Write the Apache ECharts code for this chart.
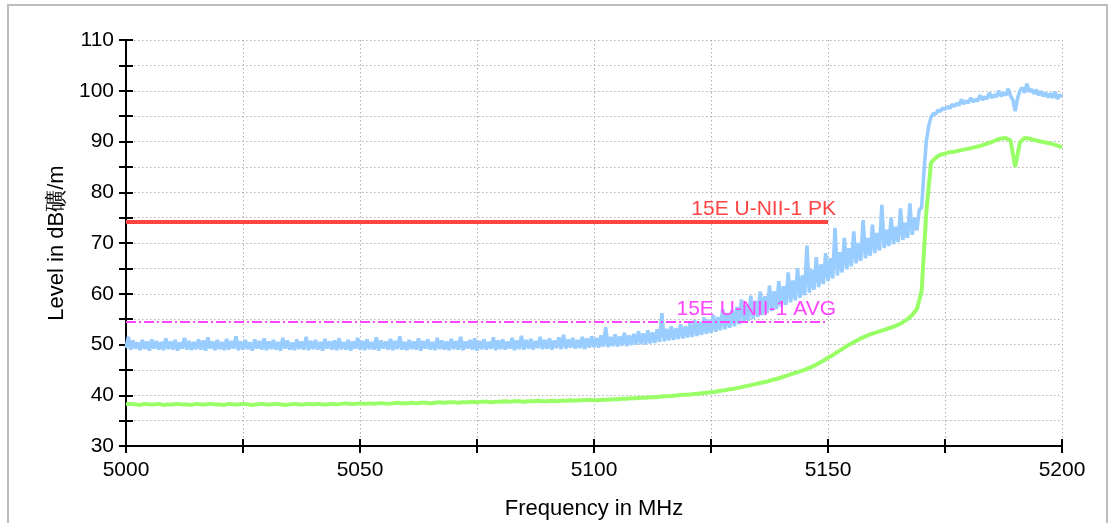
<!DOCTYPE html>
<html>
<head>
<meta charset="UTF-8">
<title>Level vs Frequency</title>
<script type="text/javascript" src="https://cdn.jsdelivr.net/npm/echarts@6/dist/echarts.min.js"></script>
<style>
  body { margin: 0; background: #fff; }
</style>
</head>
<body>
<div id="main" style="width:1109px;height:523px"></div>
<script type="text/javascript">
// frequency axis (MHz) and level axis (dB)
var xTicks = [5000, 5050, 5100, 5150, 5200];
var yTicks = [30, 40, 50, 60, 70, 80, 90, 100, 110];

// peak trace, read every 0.5 MHz starting at 5000
var peakStart = 5000, peakStep = 0.5;
var peakLevel = [
  49.3, 51.5, 49.0, 50.8, 49.2, 50.4, 48.9, 50.9, 49.1, 50.6, 48.8, 51.0, 49.2, 50.7, 49.0, 50.5, 48.9, 51.2, 49.1, 50.6,
  49.0, 50.9, 48.8, 50.4, 49.2, 51.3, 49.0, 50.7, 48.9, 50.5, 49.1, 51.0, 49.0, 50.8, 48.8, 51.4, 49.2, 50.6, 48.9, 50.9,
  49.1, 50.5, 48.9, 51.1, 49.0, 50.7, 49.2, 51.6, 48.9, 50.6, 49.0, 50.9, 49.1, 50.4, 48.8, 51.0, 49.2, 50.7, 49.0, 51.2,
  48.9, 50.6, 49.1, 50.9, 49.0, 50.5, 48.8, 51.3, 49.2, 50.8, 49.0, 50.4, 48.9, 51.0, 49.1, 50.6, 49.0, 51.5, 48.9, 50.7,
  49.1, 50.9, 49.0, 50.5, 48.8, 51.1, 49.2, 50.6, 49.0, 50.8, 48.9, 51.2, 49.1, 50.5, 49.0, 50.9, 48.8, 50.6, 49.2, 51.3,
  49.0, 50.7, 48.9, 51.0, 49.1, 50.5, 49.0, 51.4, 48.8, 50.8, 49.2, 50.6, 49.0, 51.1, 48.9, 50.7, 49.1, 51.6, 49.0, 50.5,
  48.9, 50.9, 49.1, 50.6, 49.0, 51.2, 48.8, 50.7, 49.2, 51.0, 49.0, 50.5, 48.9, 51.3, 49.1, 50.8, 49.0, 50.6, 48.9, 51.1,
  49.1, 50.7, 49.0, 51.5, 48.9, 50.6, 49.2, 50.9, 49.0, 51.2, 48.8, 50.7, 49.1, 51.0, 49.0, 50.5, 49.2, 51.4, 48.9, 50.8,
  49.1, 51.0, 49.0, 50.6, 49.2, 51.3, 48.9, 50.8, 49.1, 51.7, 49.0, 50.9, 49.2, 51.1, 49.0, 50.7, 49.3, 51.5, 49.1, 50.9,
  49.2, 51.2, 49.0, 50.8, 49.3, 51.4, 49.1, 51.9, 49.2, 51.0, 49.4, 51.3, 49.2, 50.9, 49.3, 51.5, 49.1, 51.2, 49.4, 51.6,
  49.5, 51.3, 49.4, 51.8, 49.6, 53.4, 49.5, 51.5, 49.7, 52.0, 49.6, 51.6, 49.8, 52.3, 49.7, 51.8, 49.9, 52.1, 50.0, 52.6,
  50.1, 52.2, 50.0, 52.8, 50.2, 52.4, 50.3, 53.0, 50.5, 56.2, 50.6, 53.1, 50.8, 53.6, 50.9, 53.2, 51.1, 54.0, 51.2, 53.6,
  51.4, 54.2, 51.5, 54.8, 51.7, 54.4, 51.9, 55.3, 52.1, 54.9, 52.3, 55.8, 52.5, 55.4, 52.8, 57.0, 53.0, 56.2, 53.3, 56.8,
  53.6, 57.4, 54.0, 58.9, 54.3, 57.8, 54.7, 59.6, 55.0, 58.6, 55.4, 60.4, 55.8, 59.5, 56.2, 61.6, 56.6, 60.5, 57.0, 62.5,
  57.4, 61.5, 57.8, 64.2, 58.3, 62.6, 58.7, 65.0, 59.2, 63.6, 59.7, 69.5, 60.2, 64.8, 60.8, 67.2, 61.3, 65.8, 61.9, 68.0,
  62.5, 67.0, 63.0, 73.0, 63.6, 68.2, 64.2, 71.0, 64.8, 69.0, 65.4, 72.3, 66.0, 70.0, 66.5, 74.5, 67.0, 71.0, 67.5, 73.6,
  68.0, 72.0, 68.5, 77.5, 69.0, 72.6, 69.4, 75.0, 69.8, 73.2, 70.2, 76.8, 70.6, 74.0, 71.0, 77.8, 71.6, 75.0, 72.5, 76.5,
  77.0, 84.0, 90.0, 93.0, 94.8, 95.5, 95.4, 96.2, 95.9, 96.6, 96.3, 96.9, 96.5, 97.3, 96.9, 97.5, 97.1, 98.3, 97.4, 98.0,
  97.6, 98.6, 97.8, 98.3, 98.0, 99.1, 98.2, 98.8, 98.4, 99.6, 98.6, 99.2, 98.8, 100.0, 98.9, 99.6, 99.1, 100.4, 99.0, 98.2,
  96.0, 98.5, 100.0, 100.6, 99.6, 101.4, 99.8, 100.3, 99.4, 100.2, 99.1, 99.9, 98.9, 99.6, 98.7, 99.5, 98.6, 99.8, 98.4, 99.2,
  98.8
];

// average trace, read every 1 MHz starting at 5000
var avgStart = 5000, avgStep = 1;
var avgLevel = [
  38.2, 38.3, 38.2, 38.1, 38.3, 38.2, 38.2, 38.3, 38.1, 38.2,
  38.2, 38.3, 38.2, 38.2, 38.1, 38.3, 38.2, 38.2, 38.3, 38.2,
  38.2, 38.1, 38.3, 38.2, 38.2, 38.3, 38.2, 38.1, 38.2, 38.3,
  38.2, 38.2, 38.3, 38.2, 38.1, 38.2, 38.3, 38.2, 38.2, 38.3,
  38.2, 38.3, 38.2, 38.2, 38.3, 38.2, 38.3, 38.4, 38.3, 38.3,
  38.4, 38.3, 38.4, 38.3, 38.4, 38.4, 38.3, 38.4, 38.5, 38.4,
  38.4, 38.5, 38.4, 38.5, 38.5, 38.4, 38.5, 38.6, 38.5, 38.6,
  38.6, 38.5, 38.6, 38.6, 38.7, 38.6, 38.7, 38.7, 38.6, 38.7,
  38.7, 38.8, 38.7, 38.8, 38.8, 38.7, 38.8, 38.8, 38.9, 38.8,
  38.8, 38.9, 38.8, 38.9, 38.9, 39.0, 38.9, 39.0, 39.0, 39.1,
  39.0, 39.0, 39.1, 39.1, 39.2, 39.2, 39.3, 39.3, 39.4, 39.4,
  39.5, 39.5, 39.6, 39.6, 39.7, 39.8, 39.8, 39.9, 40.0, 40.1,
  40.1, 40.2, 40.3, 40.4, 40.5, 40.6, 40.7, 40.9, 41.0, 41.2,
  41.3, 41.5, 41.7, 41.9, 42.1, 42.3, 42.5, 42.7, 43.0, 43.2,
  43.5, 43.8, 44.1, 44.4, 44.7, 45.0, 45.4, 45.8, 46.3, 46.8,
  47.4, 47.9, 48.5, 49.1, 49.7, 50.2, 50.7, 51.2, 51.6, 52.0,
  52.3, 52.6, 52.9, 53.2, 53.5, 53.9, 54.4, 55.0, 55.8, 57.0,
  60.5, 76.0, 85.8, 86.8, 87.4, 87.6, 87.9, 88.0, 88.2, 88.4,
  88.6, 88.8, 89.0, 89.3, 89.6, 89.9, 90.3, 90.6, 90.7, 90.2,
  85.0, 89.8, 90.7, 90.6, 90.3, 90.1, 89.9, 89.7, 89.5, 89.2,
  88.9
];

// limit lines
var limitNames = ['15E U-NII-1 PK', '15E U-NII-1 AVG'];
var limitLevels = [74.2, 54.4];
var limitRange = [5000, 5150];

function toPairs(start, step, arr) {
  var out = [];
  for (var i = 0; i < arr.length; i++) out.push([start + i * step, arr[i]]);
  return out;
}

var font = 'Liberation Sans, Arial, Helvetica, sans-serif';
var gridDash = { color: '#b0b0b0', width: 1, type: [1.5, 2.5] };

function xAxisCfg(inside) {
  return {
    type: 'value', min: xTicks[0], max: xTicks[xTicks.length - 1], interval: 50,
    position: 'bottom',
    name: inside ? '' : 'Frequency in MHz',
    nameLocation: 'middle', nameGap: 52,
    nameTextStyle: { fontFamily: font, fontSize: 22, color: '#000' },
    axisLine: { show: !inside, onZero: false, lineStyle: { color: '#000', width: 2 } },
    axisTick: { show: true, inside: inside, length: 7, lineStyle: { color: '#000', width: 2 } },
    minorTick: { show: true, splitNumber: 2, length: 7, lineStyle: { color: '#000', width: 2 } },
    axisLabel: {
      show: !inside, margin: 14, fontFamily: font, fontSize: 21, color: '#000',
      formatter: function (v) { return String(v); }
    },
    splitLine: { show: !inside, lineStyle: gridDash },
    minorSplitLine: { show: !inside, lineStyle: gridDash }
  };
}

function yAxisCfg(inside) {
  return {
    type: 'value', min: yTicks[0], max: yTicks[yTicks.length - 1], interval: 10,
    position: 'left',
    name: inside ? '' : 'Level in dB礦/m',
    nameLocation: 'middle', nameGap: 53,
    nameTextStyle: { fontFamily: font, fontSize: 22, color: '#000' },
    axisLine: { show: !inside, onZero: false, lineStyle: { color: '#000', width: 2 } },
    axisTick: { show: true, inside: inside, length: 7, lineStyle: { color: '#000', width: 2 } },
    minorTick: { show: true, splitNumber: 2, length: 7, lineStyle: { color: '#000', width: 2 } },
    axisLabel: { show: !inside, margin: 12, fontFamily: font, fontSize: 21, color: '#000' },
    splitLine: { show: !inside, lineStyle: gridDash },
    minorSplitLine: { show: !inside, lineStyle: gridDash }
  };
}

function limitSeries(idx, color, width, dash) {
  return {
    name: limitNames[idx], type: 'line', xAxisIndex: 0, yAxisIndex: 0,
    data: [], silent: true, z: 5,
    markLine: {
      symbol: 'none', silent: true, animation: false,
      lineStyle: { color: color, width: width, type: dash },
      label: {
        show: true, position: 'insideEndTop', distance: [-8, 2],
        formatter: limitNames[idx], color: color,
        fontFamily: font, fontSize: 21
      },
      data: [[{ coord: [limitRange[0], limitLevels[idx]] }, { coord: [limitRange[1], limitLevels[idx]] }]]
    }
  };
}

var myChart = echarts.init(document.getElementById('main'));
var option = {
  animation: false,
  backgroundColor: '#fff',
  graphic: [{
    type: 'rect', silent: true,
    shape: { x: 8, y: 5, width: 1099, height: 560 },
    style: { fill: 'none', stroke: '#bdbdbd', lineWidth: 2 }
  }],
  grid: { left: 126, top: 40, right: 47, bottom: 77, containLabel: false, outerBoundsMode: 'none' },
  xAxis: [xAxisCfg(false), xAxisCfg(true)],
  yAxis: [yAxisCfg(false), yAxisCfg(true)],
  series: [
    {
      name: 'AVG', type: 'line', showSymbol: false, sampling: null,
      data: toPairs(avgStart, avgStep, avgLevel),
      lineStyle: { color: '#99ff66', width: 4 }, z: 2
    },
    {
      name: 'PK', type: 'line', showSymbol: false,
      data: toPairs(peakStart, peakStep, peakLevel),
      lineStyle: { color: '#99ccff', width: 3.6, join: 'bevel' }, z: 3
    },
    limitSeries(0, '#ff4444', 4, 'solid'),
    limitSeries(1, '#ff44ff', 2, [10, 3, 2, 3])
  ]
};
myChart.setOption(option);
</script>
</body>
</html>
